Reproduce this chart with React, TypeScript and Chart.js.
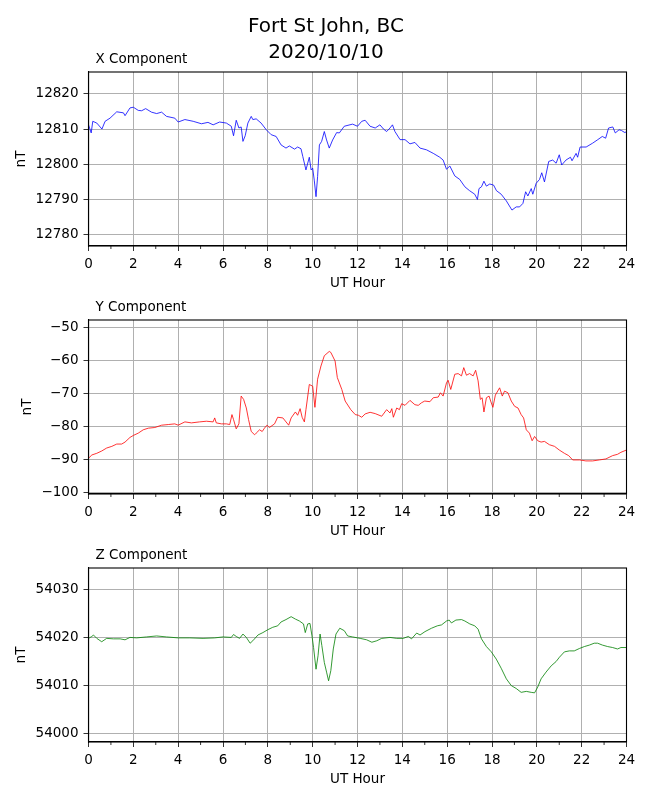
import React, { useEffect, useRef } from 'react';
import { Chart, registerables } from 'chart.js';

Chart.register(...registerables);

// hours (UT) and field values
const xHours = [
  0, 0.12, 0.19, 0.37, 0.6, 0.74, 0.96, 1.26, 1.56, 1.63,
  1.85, 2.0, 2.22, 2.37, 2.55, 2.81, 3.04, 3.26, 3.48, 3.85,
  4.0, 4.3, 4.67, 5.04, 5.33, 5.56, 5.85, 6.15, 6.37, 6.47,
  6.59, 6.71, 6.81, 6.89, 6.99, 7.11, 7.26, 7.33, 7.48, 7.7,
  7.93, 8.15, 8.37, 8.59, 8.81, 8.96, 9.19, 9.33, 9.48, 9.56,
  9.7, 9.85, 9.93, 10.0, 10.07, 10.15, 10.22, 10.3, 10.4, 10.52,
  10.62, 10.74, 10.89, 11.07, 11.19, 11.41, 11.78, 12.0, 12.19, 12.34,
  12.56, 12.79, 13.0, 13.16, 13.3, 13.45, 13.56, 13.67, 13.9, 14.12,
  14.34, 14.56, 14.79, 15.08, 15.38, 15.67, 15.82, 15.97, 16.12, 16.34,
  16.56, 16.79, 17.0, 17.23, 17.35, 17.42, 17.53, 17.64, 17.75, 17.9,
  18.07, 18.2, 18.41, 18.64, 18.89, 19.08, 19.23, 19.38, 19.5, 19.6,
  19.75, 19.82, 19.97, 20.12, 20.22, 20.34, 20.53, 20.71, 20.86, 21.0,
  21.11, 21.3, 21.5, 21.57, 21.75, 21.82, 21.93, 22.2, 22.49, 22.72,
  22.92, 23.07, 23.2, 23.39, 23.5, 23.67, 23.77, 23.93, 24.0,
];
const xValues = [
  12811.2, 12808.9, 12812.2, 12811.7, 12810, 12812.2, 12813.1, 12814.9, 12814.6, 12813.8,
  12816, 12816.2, 12815.3, 12815.2, 12815.8, 12814.8, 12814.4, 12814.8, 12813.6, 12813.1,
  12812, 12812.7, 12812.2, 12811.5, 12811.9, 12811.2, 12812, 12811.7, 12810.8, 12808.1,
  12812.5, 12810.3, 12810.6, 12806.5, 12808.1, 12811.7, 12813.6, 12812.7, 12812.9, 12811.7,
  12809.8, 12808.4, 12807.9, 12805.5, 12804.6, 12805.2, 12804.3, 12804.9, 12804.4, 12802.2,
  12798.4, 12802, 12798.4, 12798.9, 12795.5, 12790.8, 12796.5, 12805.5, 12806.5, 12809.3,
  12806.9, 12804.6, 12806.9, 12809, 12808.9, 12810.8, 12811.4, 12810.8, 12812.2, 12812.5,
  12810.8, 12810.3, 12811.2, 12810, 12809.3, 12810.3, 12811.2, 12809.3, 12807, 12807,
  12805.8, 12806.2, 12804.6, 12804.1, 12803.1, 12802, 12801.2, 12798.6, 12799.5, 12796.7,
  12795.7, 12793.6, 12792.5, 12791.5, 12790, 12793.1, 12793.6, 12795.2, 12793.8, 12794.4,
  12794.1, 12792.5, 12791.5, 12789.6, 12787, 12787.9, 12787.9, 12788.9, 12792.2, 12791,
  12793.1, 12791.5, 12794.6, 12795.7, 12797.6, 12795, 12800.8, 12801.2, 12800.3, 12802.7,
  12799.8, 12801.2, 12802, 12801, 12803.1, 12802, 12804.9, 12804.9, 12806, 12807,
  12807.9, 12807.4, 12810.3, 12810.6, 12808.9, 12809.8, 12809.6, 12809, 12809.3,
];

const yHours = [
  0, 0.15, 0.37, 0.59, 0.81, 1.04, 1.26, 1.48, 1.63, 1.85,
  2.0, 2.22, 2.44, 2.67, 2.96, 3.26, 3.56, 3.85, 4.0, 4.3,
  4.59, 4.96, 5.26, 5.56, 5.63, 5.7, 5.93, 6.15, 6.3, 6.4,
  6.47, 6.59, 6.71, 6.81, 6.92, 7.04, 7.14, 7.26, 7.41, 7.48,
  7.63, 7.75, 7.85, 7.96, 8.07, 8.3, 8.44, 8.67, 8.93, 9.04,
  9.23, 9.33, 9.44, 9.53, 9.63, 9.7, 9.85, 10.0, 10.1, 10.22,
  10.37, 10.52, 10.74, 10.81, 11.0, 11.1, 11.3, 11.45, 11.7, 11.9,
  12.04, 12.19, 12.34, 12.56, 12.79, 13.08, 13.3, 13.45, 13.53, 13.6,
  13.75, 13.87, 13.97, 14.12, 14.34, 14.56, 14.71, 14.86, 15.0, 15.23,
  15.38, 15.6, 15.7, 15.82, 15.97, 16.04, 16.16, 16.34, 16.49, 16.64,
  16.74, 16.86, 17.0, 17.16, 17.27, 17.38, 17.48, 17.56, 17.64, 17.75,
  17.87, 17.94, 18.04, 18.15, 18.34, 18.46, 18.56, 18.71, 18.86, 19.01,
  19.16, 19.3, 19.41, 19.53, 19.67, 19.79, 19.9, 20.04, 20.19, 20.34,
  20.56, 20.79, 21.0, 21.23, 21.42, 21.6, 21.9, 22.19, 22.49, 22.79,
  23.08, 23.38, 23.6, 23.75, 24.0,
];
const yValues = [
  -89.6, -88.6, -88.1, -87.4, -86.5, -86, -85.3, -85.3, -84.7, -83.3,
  -82.7, -82, -81, -80.5, -80.3, -79.6, -79.4, -79.2, -79.6, -78.6,
  -78.9, -78.6, -78.4, -78.6, -77.4, -78.9, -79.2, -79.2, -79.4, -76.4,
  -77.9, -80.7, -79.2, -70.8, -71.8, -74.4, -77.9, -81.5, -82.5, -82,
  -81, -81.5, -80.5, -79.6, -80.3, -79.2, -77.2, -77.4, -79.6, -77.4,
  -75.6, -76.6, -74.6, -77.2, -78.6, -74.9, -67.3, -67.8, -74.2, -65.7,
  -61.7, -58.6, -57.3, -57.6, -60.2, -65.2, -68.8, -72.3, -74.9, -76.4,
  -76.6, -77.2, -76.2, -75.7, -76.1, -76.9, -74.9, -75.9, -74.6, -77.2,
  -74.4, -74.9, -73.1, -73.6, -72.1, -73.4, -73.6, -72.8, -72.3, -72.5,
  -71.3, -71.1, -69.8, -70.8, -66.8, -66, -68.8, -64.2, -64, -64.7,
  -62.2, -64.5, -64, -64.7, -63, -66.2, -71.8, -71.3, -75.6, -71.3,
  -70.8, -72.3, -74.2, -70.5, -68.3, -70.8, -69.3, -69.8, -72.3, -73.9,
  -74.4, -76.4, -77.4, -81, -82, -84.3, -83, -84.3, -84.7, -84.5,
  -85.5, -86, -87.1, -88.1, -88.8, -90.1, -90.1, -90.4, -90.4, -90.1,
  -89.8, -88.8, -88.4, -87.8, -87.1,
];

const zHours = [
  0, 0.15, 0.22, 0.37, 0.59, 0.81, 1.11, 1.41, 1.63, 1.85,
  2.15, 2.59, 3.04, 3.48, 4.0, 4.52, 5.11, 5.63, 6.0, 6.37,
  6.47, 6.59, 6.74, 6.89, 7.04, 7.21, 7.33, 7.56, 7.78, 8.0,
  8.22, 8.44, 8.59, 8.81, 9.04, 9.23, 9.41, 9.59, 9.67, 9.78,
  9.88, 9.97, 10.04, 10.15, 10.24, 10.33, 10.41, 10.52, 10.62, 10.71,
  10.81, 10.92, 11.04, 11.21, 11.41, 11.56, 11.78, 12.12, 12.41, 12.64,
  12.86, 13.08, 13.45, 13.75, 14.04, 14.27, 14.41, 14.64, 14.79, 15.01,
  15.3, 15.56, 15.75, 15.97, 16.09, 16.19, 16.39, 16.64, 16.79, 17.01,
  17.23, 17.38, 17.53, 17.75, 17.97, 18.19, 18.41, 18.64, 18.86, 19.08,
  19.3, 19.53, 19.75, 19.9, 20.04, 20.19, 20.41, 20.64, 20.86, 21.01,
  21.23, 21.45, 21.67, 21.9, 22.12, 22.34, 22.56, 22.71, 22.93, 23.16,
  23.38, 23.6, 23.75, 24.0,
];
const zValues = [
  54019.8, 54020.2, 54020.5, 54019.8, 54019.1, 54019.8, 54019.7, 54019.7, 54019.5, 54020,
  54019.9, 54020.1, 54020.3, 54020.1, 54019.9, 54019.9, 54019.8, 54019.9, 54020.1, 54020,
  54020.6, 54020.2, 54019.8, 54020.7, 54020, 54018.8, 54019.3, 54020.5, 54021, 54021.6,
  54022.1, 54022.4, 54023.2, 54023.7, 54024.3, 54023.8, 54023.4, 54022.8, 54021, 54022.8,
  54022.9, 54020.3, 54017.9, 54013.4, 54016.2, 54020.7, 54018.3, 54014.8, 54012.8, 54011,
  54013.1, 54017.6, 54020.7, 54021.9, 54021.4, 54020.3, 54020.1, 54019.8, 54019.5, 54019,
  54019.3, 54019.8, 54020, 54019.8, 54019.8, 54020.2, 54019.7, 54020.9, 54020.5, 54021.2,
  54021.9, 54022.4, 54022.6, 54023.4, 54023.6, 54023, 54023.6, 54023.7, 54023.4, 54022.8,
  54022.4, 54021.7, 54019.7, 54018.1, 54017, 54015.5, 54013.6, 54011.4, 54010, 54009.4,
  54008.6, 54008.8, 54008.6, 54008.5, 54009.7, 54011.4, 54012.8, 54014.1, 54015, 54015.9,
  54017, 54017.2, 54017.2, 54017.7, 54018.1, 54018.4, 54018.8, 54018.8, 54018.4, 54018.1,
  54017.9, 54017.6, 54017.9, 54017.9,
];

const minorHours = [1, 3, 5, 7, 9, 11, 13, 15, 17, 19, 21, 23];

const FONT = 'DejaVu Sans';
const PAD_TOP = 40;
const PLOT_H = 174;
const AXIS_H = 46;

// box round the axes, minor x ticks and the small title above each panel
const framePlugin = {
  id: 'frame',
  afterDraw(chart: any, _args: any, opts: any) {
    const { ctx, chartArea } = chart;
    const { left, top, right, bottom } = chartArea;
    ctx.save();
    ctx.strokeStyle = '#000';
    ctx.lineWidth = 1.1;
    ctx.strokeRect(left, top, right - left, bottom - top);
    const xs = chart.scales.x;
    ctx.lineWidth = 0.8;
    minorHours.forEach((h) => {
      const px = xs.getPixelForValue(h);
      ctx.beginPath();
      ctx.moveTo(px, bottom);
      ctx.lineTo(px, bottom + 3);
      ctx.stroke();
    });
    ctx.fillStyle = '#000';
    ctx.font = `13.5px "${FONT}"`;
    ctx.textBaseline = 'alphabetic';
    ctx.textAlign = 'left';
    ctx.fillText(opts.text, left + 7, top - 9);
    ctx.restore();
  },
};

interface PanelProps {
  top: number;
  title: string;
  hours: number[];
  values: number[];
  color: string;
  min: number;
  max: number;
  labelPad: number;
}

const Panel: React.FC<PanelProps> = ({ top, title, hours, values, color, min, max, labelPad }) => {
  const canvasRef = useRef<HTMLCanvasElement>(null);

  useEffect(() => {
    if (!canvasRef.current) return;
    const chart = new Chart(canvasRef.current, {
      type: 'line',
      data: {
        datasets: [{
          data: hours.map((h, i) => ({ x: h, y: values[i] })),
          borderColor: color,
          borderWidth: 0.8,
          pointRadius: 0,
          tension: 0,
        }],
      },
      options: {
        animation: false,
        responsive: false,
        events: [],
        layout: { padding: { top: PAD_TOP, right: 23.5, left: 0, bottom: 0 } },
        plugins: {
          legend: { display: false },
          tooltip: { enabled: false },
          frame: { text: title },
        } as any,
        scales: {
          x: {
            type: 'linear',
            min: 0,
            max: 24,
            afterFit: (s: any) => { s.height = AXIS_H; },
            ticks: { stepSize: 2, color: '#000', font: { family: FONT, size: 13.5 }, padding: 5, maxRotation: 0 },
            grid: { color: '#b0b0b0', lineWidth: 1, tickColor: '#000', tickLength: 5, tickWidth: 0.8 },
            border: { color: '#000', width: 1.1 },
            title: { display: true, text: 'UT Hour', color: '#000', font: { family: FONT, size: 13.5 }, padding: { top: 0, bottom: 0 } },
          },
          y: {
            type: 'linear',
            min,
            max,
            afterFit: (s: any) => { s.width = 88.5; },
            ticks: {
              stepSize: 10,
              includeBounds: false,
              color: '#000',
              font: { family: FONT, size: 13.5 },
              padding: 5,
              callback: (v: any) => String(v).replace('-', '\u2212'),
            },
            grid: { color: '#b0b0b0', lineWidth: 1, tickColor: '#000', tickLength: 5, tickWidth: 0.8 },
            border: { color: '#000', width: 1.1 },
            title: { display: true, text: 'nT', color: '#000', font: { family: FONT, size: 13.5 }, padding: { top: labelPad, bottom: 0 } },
          },
        },
      },
      plugins: [framePlugin],
    } as any);
    return () => chart.destroy();
  }, [hours, values, color, min, max, title, labelPad]);

  return (
    <canvas
      ref={canvasRef}
      width={650}
      height={PAD_TOP + PLOT_H + AXIS_H}
      style={{ position: 'absolute', left: 0, top: top - PAD_TOP }}
    />
  );
};

export default function App() {
  useEffect(() => {
    document.body.style.margin = '0';
  }, []);

  return (
    <div style={{ position: 'relative', width: 650, height: 800, background: '#fff', overflow: 'hidden' }}>
      <Panel top={72} title="X Component" hours={xHours} values={xValues} color="#0000ff" min={12776.8} max={12826.2} labelPad={12.9} />
      <Panel top={320} title="Y Component" hours={yHours} values={yValues} color="#ff0000" min={-100.4} max={-47.8} labelPad={18.9} />
      <Panel top={568} title="Z Component" hours={zHours} values={zValues} color="#008000" min={53998.3} max={54034.4} labelPad={12.9} />
      <div
        style={{
          position: 'absolute',
          top: 11.5,
          left: 0,
          width: 652,
          textAlign: 'center',
          fontFamily: FONT,
          fontSize: 20,
          lineHeight: '26.6px',
          color: '#000',
        }}
      >
        Fort St John, BC<br />2020/10/10
      </div>
    </div>
  );
}
